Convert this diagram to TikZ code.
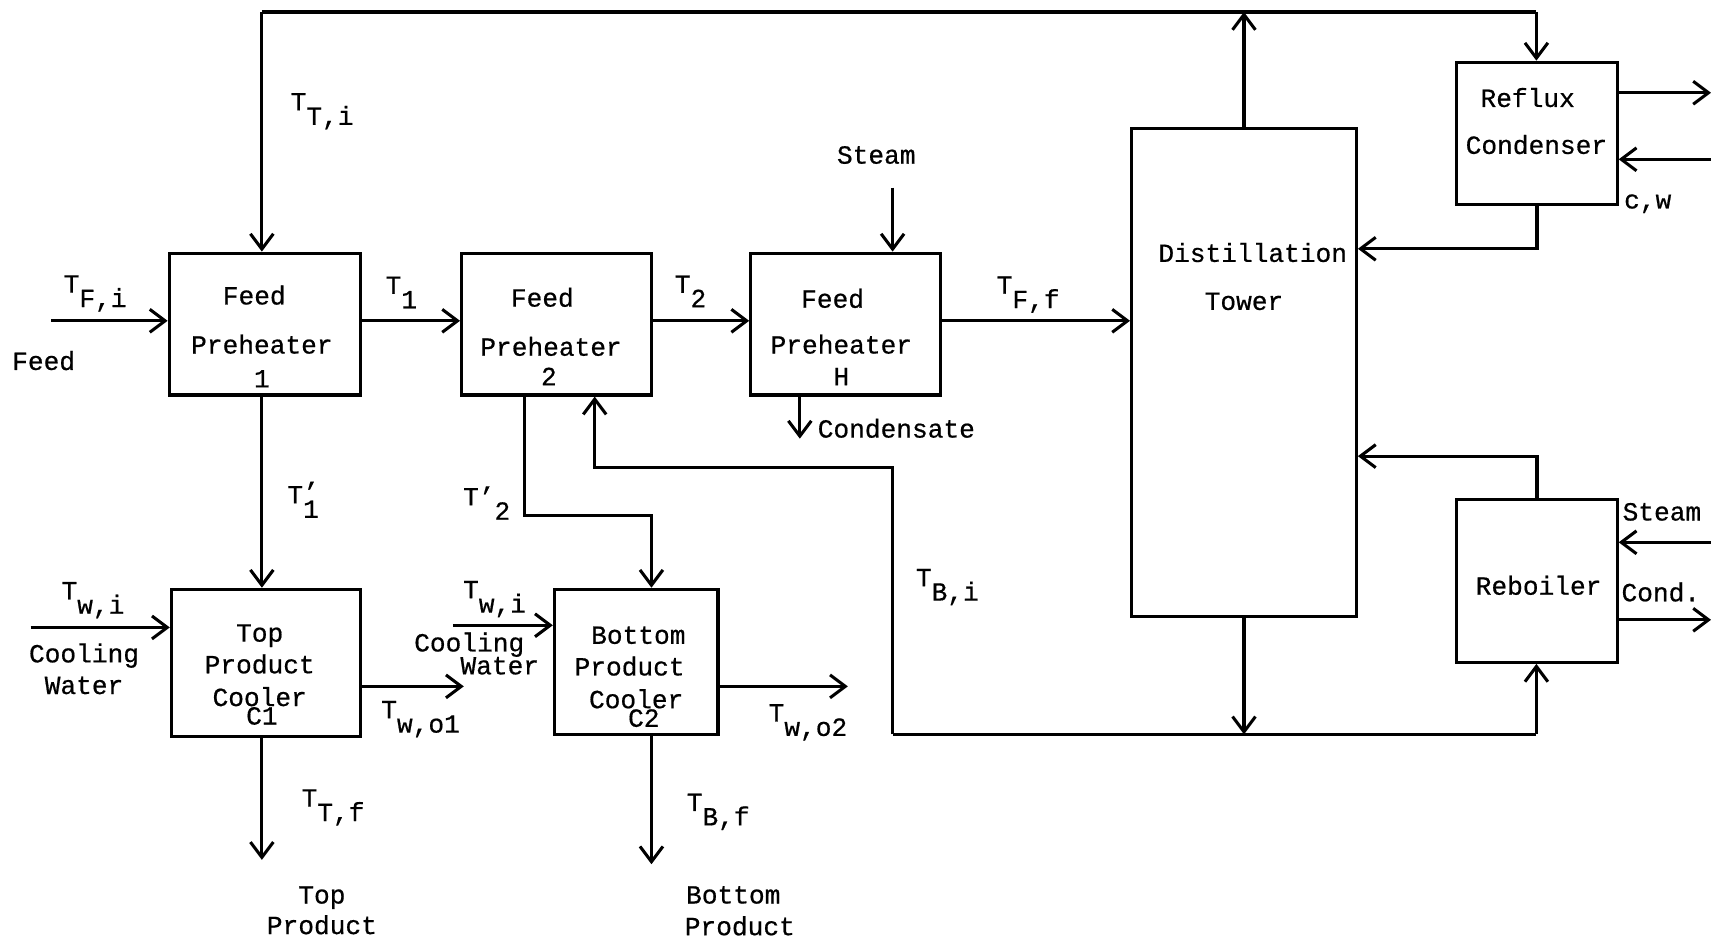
\documentclass[tikz,border=0pt]{standalone}
\usepackage{fontspec}
\setmainfont{Liberation Mono}[FakeBold=0.6]
\usetikzlibrary{arrows.meta}
\newcommand{\Tsb}[1]{T\raisebox{-0.55em}{#1}}
\begin{document}
\begin{tikzpicture}[x=1pt,y=-1pt, line width=2.8pt,
  box/.style={draw, rectangle, inner sep=0pt, line width=2.8pt},
  arr/.style={-{Straight Barb[length=14pt,width=21pt]}},
  txt/.style={inner sep=0pt, font=\fontsize{24}{28}\selectfont, text height=0.6em, text depth=0pt, yshift=-5pt},
  lab/.style={inner sep=0pt, font=\fontsize{24}{28}\selectfont, anchor=west, yshift=-1pt}
]
\useasboundingbox (0,0) rectangle (1568,863);

% boxes
\node[box, minimum width=175pt, minimum height=130pt] (fp1) at (242.5,297) {};
\node[box, minimum width=174pt, minimum height=130pt] (fp2) at (510,297) {};
\node[box, minimum width=174pt, minimum height=130pt] (fph) at (775,297) {};
\node[box, minimum width=206pt, minimum height=447pt] (tower) at (1140,341.5) {};
\node[box, minimum width=147pt, minimum height=130pt] (reflux) at (1408.5,122) {};
\node[box, minimum width=147pt, minimum height=149pt] (reb) at (1408.5,532.5) {};
\node[box, minimum width=173pt, minimum height=135pt] (c1) at (243.5,607.5) {};
\node[box, minimum width=150pt, minimum height=133pt] (c2) at (583,606.5) {};

% box texts
\node[txt] (fp1a) at (233,271) {Feed};
\node[txt] (fp1b) at (240,316) {Preheater};
\node[txt] (fp1c) at (240,347) {1};
\node[txt] (fp2a) at (497,273) {Feed};
\node[txt] (fp2b) at (505,318) {Preheater};
\node[txt] (fp2c) at (503,345) {2};
\node[txt] (fpha) at (763,274) {Feed};
\node[txt] (fphb) at (771,316) {Preheater};
\node[txt] (fphc) at (771,345) {H};
\node[txt] (towa) at (1148,232) {Distillation};
\node[txt] (towb) at (1140,276) {Tower};
\node[txt] (rfa) at (1400,90) {Reflux};
\node[txt] (rfb) at (1408,133) {Condenser};
\node[txt] (rba) at (1410,537) {Reboiler};
\node[txt] (c1a) at (238,580) {Top};
\node[txt] (c1b) at (238,609) {Product};
\node[txt] (c1c) at (238,639) {Cooler};
\node[txt] (c1d) at (240,656) {C1};
\node[txt] (c2a) at (585,582) {Bottom};
\node[txt] (c2b) at (577,611) {Product};
\node[txt] (c2c) at (583,641) {Cooler};
\node[txt] (c2d) at (590,658) {C2};

% free texts
\node[txt] (feedt) at (40,331) {Feed};
\node[txt] (steam1) at (803,142) {Steam};
\node[txt, anchor=west] (condt) at (748,393) {Condensate};
\node[txt] (cwt) at (1510,183) {c,w};
\node[txt] (steam2) at (1523,469) {Steam};
\node[txt] (condd) at (1522,543) {Cond.};
\node[txt] (cool1) at (77,599) {Cooling};
\node[txt] (wat1) at (77,628) {Water};
\node[txt] (cool2) at (430,589) {Cooling};
\node[txt] (wat2) at (458,610) {Water};
\node[txt] (topt) at (295,820) {Top};
\node[txt] (topp2) at (295,848) {Product};
\node[txt] (bott) at (672,820) {Bottom};
\node[txt] (botp) at (678,849) {Product};

% stream labels
\node[lab] (lTTi) at (265,101) {\Tsb{T,i}};
\node[lab] (lTFi) at (57,268) {\Tsb{F,i}};
\node[lab] (lT1) at (352,267) {\Tsb{1}};
\node[lab] (lT2) at (617,266) {\Tsb{2}};
\node[lab] (lTFf) at (912,269) {\Tsb{F,f}};
\node[lab] (lT1p) at (262,457) {T\rlap{\raisebox{0.1em}{'}}\raisebox{-0.55em}{1}};
\node[lab] (lT2p) at (423,460) {T'\raisebox{-0.55em}{2}};
\node[lab] (lTwi1) at (55,549) {\Tsb{w,i}};
\node[lab] (lTwi2) at (423,548) {\Tsb{w,i}};
\node[lab] (lTwo1) at (348,658) {\Tsb{w,o1}};
\node[lab] (lTwo2) at (703,661) {\Tsb{w,o2}};
\node[lab] (lTTf) at (275,739) {\Tsb{T,f}};
\node[lab] (lTBf) at (628,743) {\Tsb{B,f}};
\node[lab] (lTBi) at (838,537) {\Tsb{B,i}};

% coordinates
\coordinate (tl) at (240,11);
\coordinate (tr) at (1408,11);
\coordinate (fl) at (0,294);
\coordinate (feedin) at (47,294);
\coordinate (rcout) at (1568,85);
\coordinate (rcin) at (1568,146);
\coordinate (refret) at (0,228);
\coordinate (rebret) at (0,418);
\coordinate (rbin) at (1568,497);
\coordinate (rbout) at (1568,568);
\coordinate (bl) at (818,673);
\coordinate (br) at (1408,673);
\coordinate (tbi) at (545,428);
\coordinate (t2p) at (481,472);
\coordinate (t2q) at (597,472);
\coordinate (topend) at (240,788);
\coordinate (botend) at (597,792);
\coordinate (cw1) at (28,575);
\coordinate (c1o) at (425,629);
\coordinate (cw2) at (415,573);
\coordinate (c2o) at (777,629);
\coordinate (st) at (818,172);
\coordinate (cd) at (733,402);

% connectors
\draw (tl) -- (tr);
\draw[arr] (tl) -- (tl |- fp1.north);
\draw[arr] (tr) -- (tr |- reflux.north);
\draw[arr] (tower.north) -- (tower.north |- tr);
\draw[arr] (feedin) -- (feedin -| fp1.west);
\draw[arr] (fp1.east |- fl) -- (fp2.west |- fl);
\draw[arr] (fp2.east |- fl) -- (fph.west |- fl);
\draw[arr] (fph.east |- fl) -- (tower.west |- fl);
\draw[arr] (st) -- (st |- fph.north);
\draw[arr] (cd |- fph.south) -- (cd);
\draw[arr] (reflux.east |- rcout) -- (rcout);
\draw[arr] (rcin) -- (reflux.east |- rcin);
\draw[arr] (reflux.south) |- (tower.east |- refret);
\draw[arr] (reb.north) |- (tower.east |- rebret);
\draw[arr] (rbin) -- (reb.east |- rbin);
\draw[arr] (reb.east |- rbout) -- (rbout);
\draw (bl) -- (br);
\draw[arr] (tower.south) -- (tower.south |- bl);
\draw[arr] (br) -- (br |- reb.south);
\draw[arr] (bl) |- (tbi) -- (tbi |- fp2.south);
\draw[arr] (tl |- fp1.south) -- (tl |- c1.north);
\draw[arr] (t2p |- fp2.south) -- (t2p) -- (t2q) -- (t2q |- c2.north);
\draw[arr] (topend |- c1.south) -- (topend);
\draw[arr] (botend |- c2.south) -- (botend);
\draw[arr] (cw1) -- (cw1 -| c1.west);
\draw[arr] (c1o -| c1.east) -- (c1o);
\draw[arr] (cw2) -- (cw2 -| c2.west);
\draw[arr] (c2o -| c2.east) -- (c2o);
\end{tikzpicture}
\end{document}
